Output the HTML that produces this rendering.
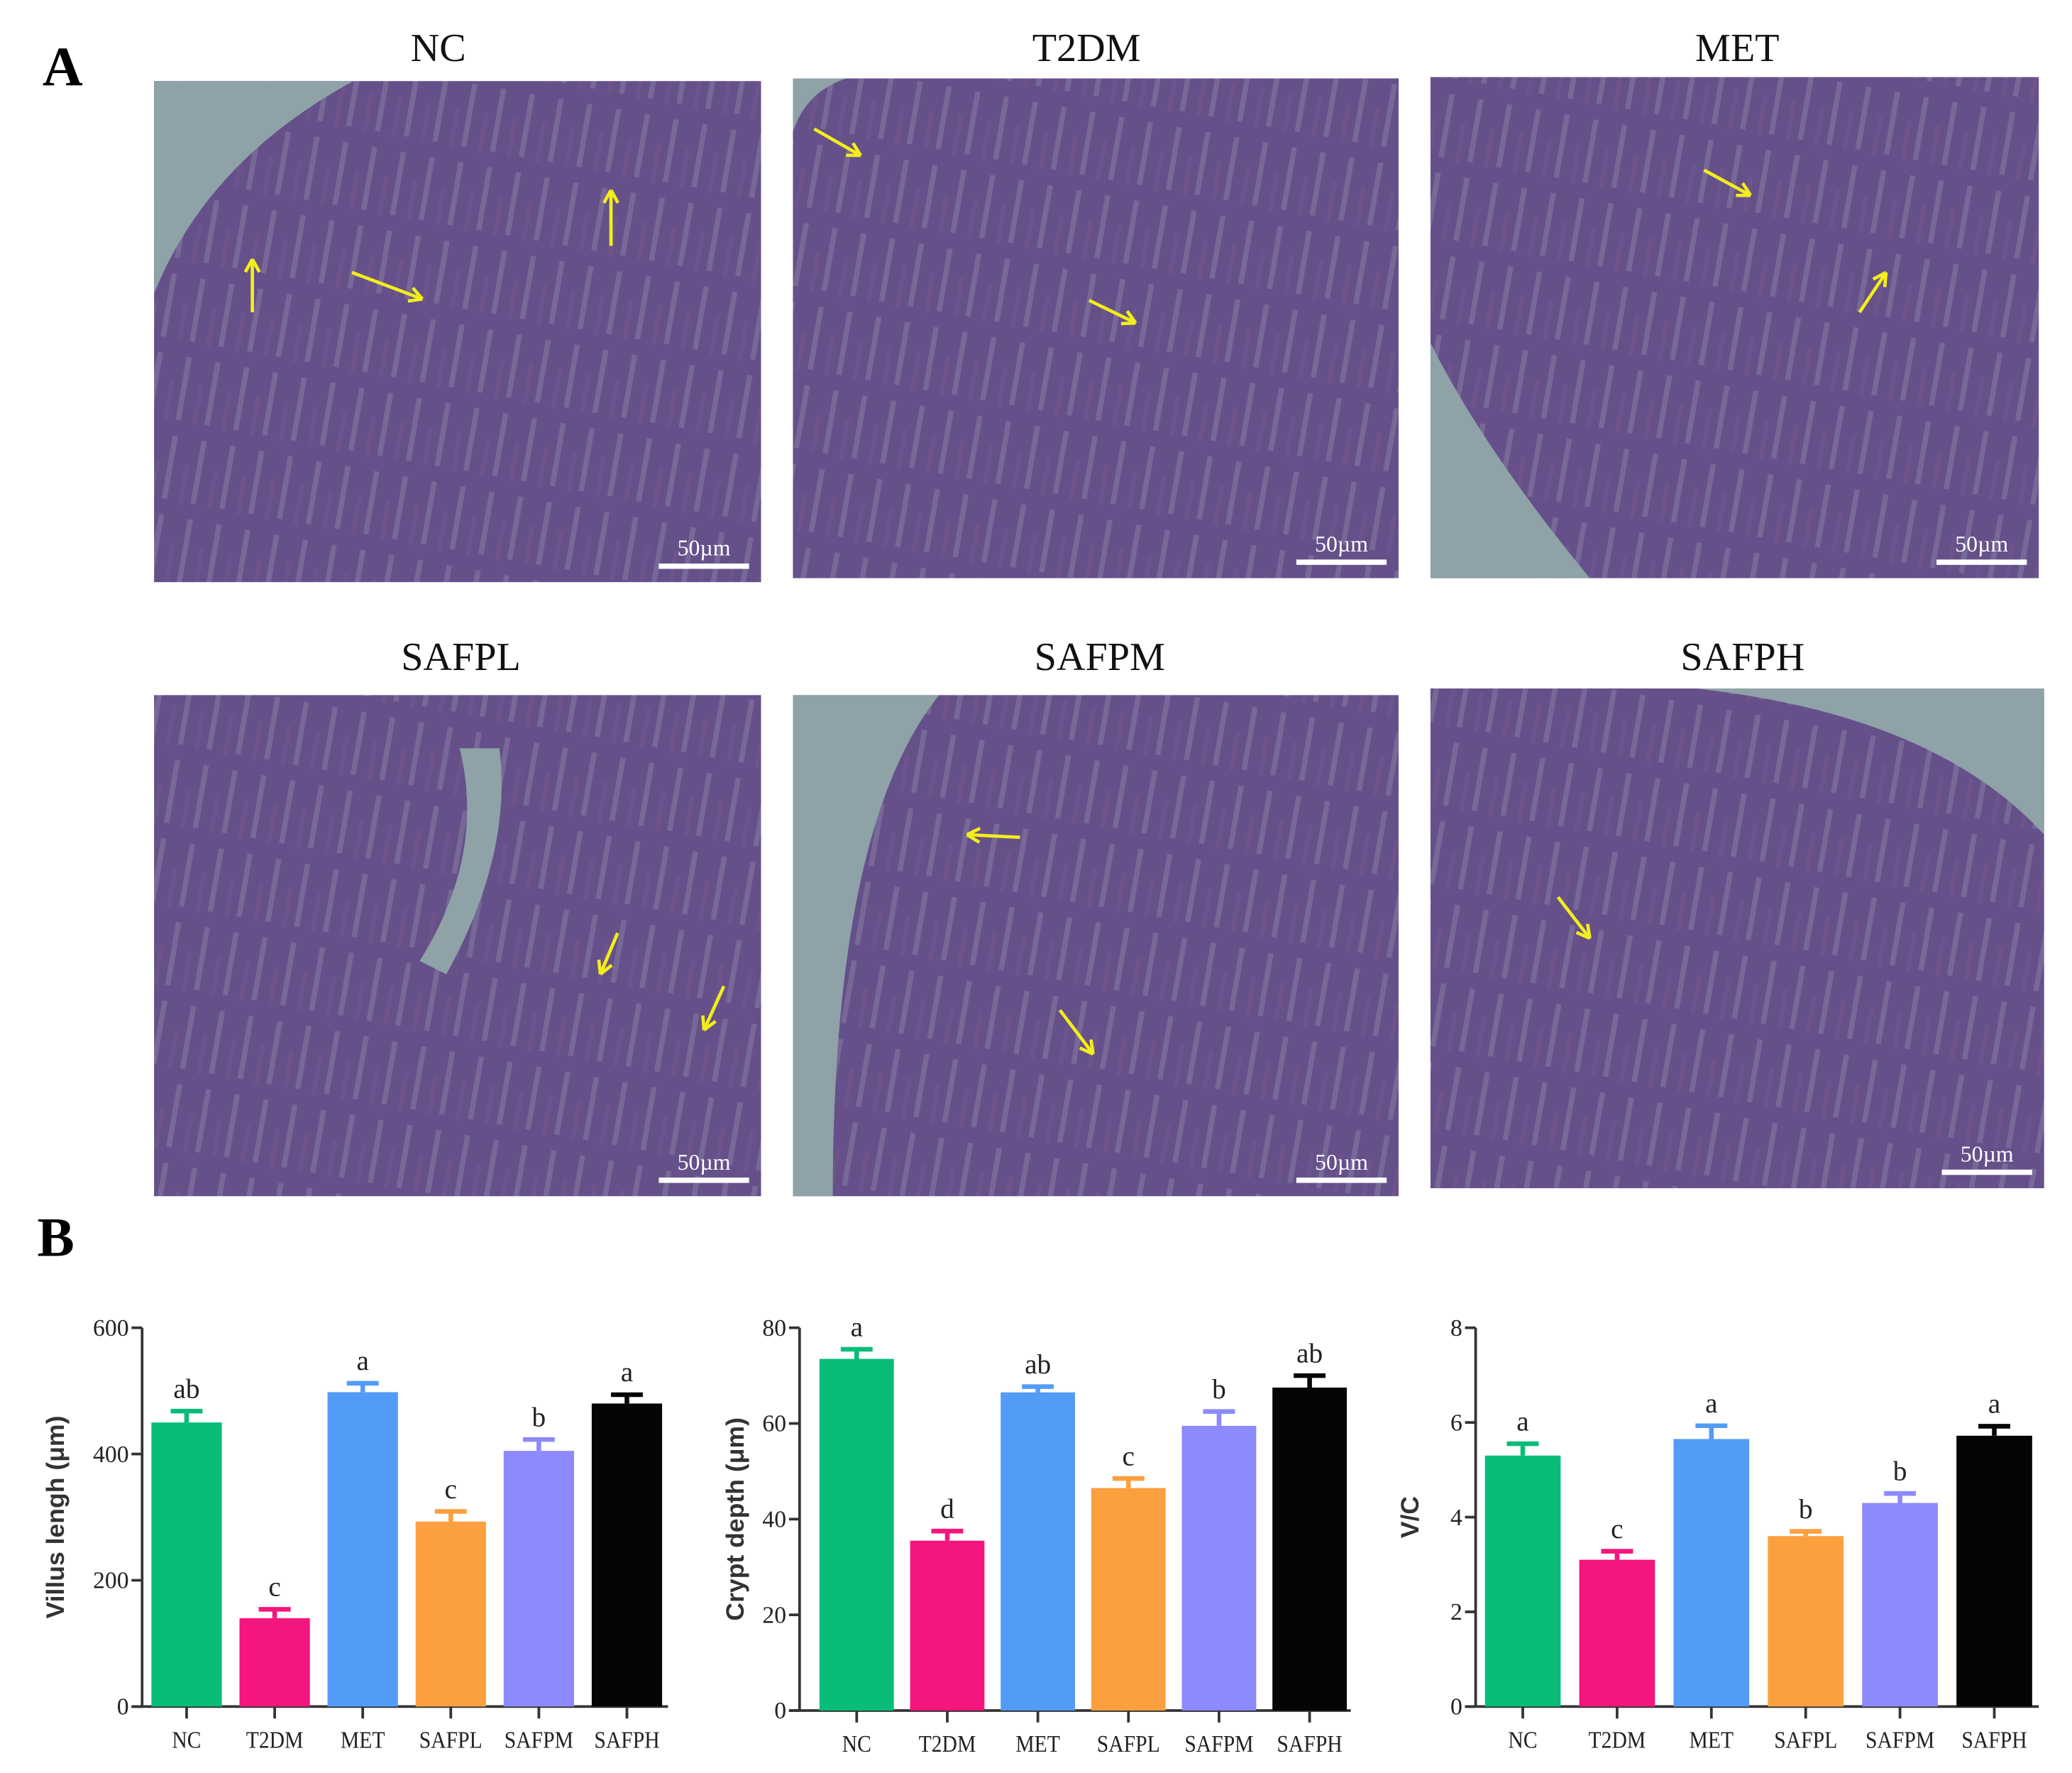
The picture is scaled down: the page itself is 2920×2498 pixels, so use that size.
<!DOCTYPE html>
<html><head><meta charset="utf-8"><style>
html,body{margin:0;padding:0;background:#fff;}
svg{display:block;}
</style></head><body>
<svg id="fig" width="2920" height="2498" viewBox="0 0 1560 1334" preserveAspectRatio="none" xmlns="http://www.w3.org/2000/svg" font-family="'Liberation Serif', serif">
<defs>
<pattern id="villi" patternUnits="userSpaceOnUse" width="22" height="60" patternTransform="rotate(10)">
<rect width="22" height="60" fill="#65508a"/>
<rect x="9" y="0" width="4" height="48" fill="#8f86a8" opacity="0.45"/>
<rect x="0" y="20" width="3" height="30" fill="#7d5a8e" opacity="0.4"/>
</pattern>
</defs>
<g id="partA">
<text x="32" y="64" font-size="42" font-weight="bold">A</text>
</g>
<g id="micro"></g>
<text x="28" y="945" font-size="42" font-weight="bold">B</text>
<g id="charts"></g>
</svg>
<script>
const NS='http://www.w3.org/2000/svg';
function mk(t,a,p){const e=document.createElementNS(NS,t);for(const k in a)e.setAttribute(k,a[k]);p.appendChild(e);return e;}
const micro=document.getElementById('micro');
const panels=[
 {n:'NC',x:116,y:61,w:457,h:377,tx:330,ty:46,bg:'M0,0 L150,0 Q40,60 0,160 Z',arrows:[[190,235,190,195],[265,205,318,225],[460,185,460,143]]},
 {n:'T2DM',x:597,y:59,w:456,h:376,tx:818,ty:46,bg:'M0,0 L40,0 Q10,10 0,40 Z',arrows:[[613,97,648,117],[820,226,855,243]]},
 {n:'MET',x:1077,y:58,w:458,h:377,tx:1308,ty:46,bg:'M0,200 Q40,280 120,377 L0,377 Z',arrows:[[1283,128,1318,147],[1400,235,1420,205]]},
 {n:'SAFPL',x:116,y:523,w:457,h:377,tx:347,ty:504,bg:'M230,40 Q250,120 200,200 L220,210 Q270,120 260,40 Z',arrows:[[465,702,452,733],[545,742,530,775]]},
 {n:'SAFPM',x:597,y:523,w:456,h:377,tx:828,ty:504,bg:'M0,0 L110,0 Q30,100 30,377 L0,377 Z',arrows:[[768,630,728,628],[798,760,823,793]]},
 {n:'SAFPH',x:1077,y:518,w:462,h:376,tx:1312,ty:504,bg:'M200,0 L462,0 L462,110 Q380,20 200,0 Z',arrows:[[1173,675,1197,706]]}
];
panels.forEach(p=>{
 const g=mk('g',{},micro);
 
 
 const t=mk('text',{x:p.tx,y:p.ty,'font-size':30,'text-anchor':'middle',fill:'#111'},g);
 
 
 t.textContent=p.n;
 const r=mk('rect',{x:p.x,y:p.y,width:p.w,height:p.h,fill:'url(#villi)'},g);
 
 
 const bgp=mk('path',{d:p.bg,transform:`translate(${p.x},${p.y})`,fill:'#8fa2a7'},g);
 
 
 p.arrows.forEach(a=>{
  const l=mk('line',{x1:a[0],y1:a[1],x2:a[2],y2:a[3],stroke:'#f2ee1a','stroke-width':2.5},g);
  
  
  const ang=Math.atan2(a[3]-a[1],a[2]-a[0]);
  [0.5,-0.5].forEach(d=>{mk('line',{x1:a[2],y1:a[3],x2:a[2]-11*Math.cos(ang+d),y2:a[3]-11*Math.sin(ang+d),stroke:'#f2ee1a','stroke-width':2.5},g);});
 });
 const sb=mk('rect',{x:p.x+p.w-77,y:p.y+p.h-14,width:68,height:4,fill:'#fff'},g);
 
 
 const st=mk('text',{x:p.x+p.w-43,y:p.y+p.h-20,'font-size':17,'text-anchor':'middle',fill:'#fff'},g);
 
 
 st.textContent='50µm';
});

const categories=['NC','T2DM','MET','SAFPL','SAFPM','SAFPH'];
const colors=['#08bd77','#f4157d','#529cf8','#fc9f3f','#8c8afc','#050505'];
const villusValues=[450,140,498,293,405,480];
const villusErr=[18,14,14,16,18,14];
const villusLetters=['ab','c','a','c','b','a'];
const villusTicks=[0,200,400,600];
const cryptValues=[73.5,35.5,66.5,46.5,59.5,67.5];
const cryptErr=[2,2,1.2,2,3,2.5];
const cryptLetters=['a','d','ab','c','b','ab'];
const cryptTicks=[0,20,40,60,80];
const vcValues=[5.3,3.1,5.65,3.6,4.3,5.72];
const vcErr=[0.25,0.18,0.28,0.1,0.2,0.2];
const vcLetters=['a','c','a','b','b','a'];
const vcTicks=[0,2,4,6,8];

const charts=document.getElementById('charts');
function chart(cfg){
 const g=mk('g',{},charts);
 
 
 const x0=cfg.x0,x1=cfg.x1,yt=cfg.yt,yb=cfg.yb,max=cfg.ticks[cfg.ticks.length-1];
 const Y=v=>yb-(v/max)*(yb-yt);
 const step=cfg.step, bw=cfg.bw;
 const X=i=>cfg.left+step*i+bw/2;
 const ya=mk('line',{x1:x0,y1:yt,x2:x0,y2:yb,stroke:'#333','stroke-width':2},g);
 
 
 const xa=mk('line',{x1:x0-8,y1:yb,x2:x1,y2:yb,stroke:'#333','stroke-width':2},g);
 
 
 cfg.ticks.forEach(t=>{
  mk('line',{x1:x0-8,y1:Y(t),x2:x0,y2:Y(t),stroke:'#333','stroke-width':2},g);
  const tl=mk('text',{x:x0-10,y:Y(t)+6,'font-size':18,'text-anchor':'end',fill:'#222'},g);
  
  
  tl.textContent=t;
 });
 const tt=mk('text',{x:0,y:0,'font-size':19,'font-family':"'Liberation Sans',sans-serif",'font-weight':'bold','text-anchor':'middle',fill:'#333',transform:`translate(${cfg.tx},${(yt+yb)/2}) rotate(-90)`},g);
 
 
 tt.textContent=cfg.title;
 categories.forEach((c,i)=>{
  const v=cfg.values[i],e=cfg.err[i],cx=X(i);
  const b=mk('rect',{x:cx-bw/2,y:Y(v),width:bw,height:yb-Y(v),fill:colors[i]},g);
  
  
  const eb=mk('path',{d:`M${cx},${Y(v)} V${Y(v+e)} M${cx-12},${Y(v+e)} H${cx+12}`,stroke:colors[i],'stroke-width':3.5,fill:'none'},g);
  
  
  const lt=mk('text',{x:cx,y:Y(v+e)-10,'font-size':21,'text-anchor':'middle',fill:'#222'},g);
  
  
  lt.textContent=cfg.letters[i];
  mk('line',{x1:cx,y1:yb,x2:cx,y2:yb+9,stroke:'#333','stroke-width':2},g);
  const cl=mk('text',{x:cx,y:yb+31,'font-size':18,'text-anchor':'middle',fill:'#222',transform:`translate(${cx},0) scale(0.88,1) translate(${-cx},0)`},g);
  
  
  cl.textContent=c;
 });
}
chart({name:'villus-length-chart',x0:107,x1:503,yt:999,yb:1284,left:114,step:66.3,bw:53,ticks:villusTicks,values:villusValues,err:villusErr,letters:villusLetters,title:'Villus lengh (μm)',tx:48});
chart({name:'crypt-depth-chart',x0:602,x1:1017,yt:999,yb:1287,left:617,step:68.2,bw:56,ticks:cryptTicks,values:cryptValues,err:cryptErr,letters:cryptLetters,title:'Crypt depth (μm)',tx:560});
chart({name:'vc-ratio-chart',x0:1111,x1:1535,yt:999,yb:1284,left:1118,step:71,bw:57,ticks:vcTicks,values:vcValues,err:vcErr,letters:vcLetters,title:'V/C',tx:1068});
</script>
</body></html>
